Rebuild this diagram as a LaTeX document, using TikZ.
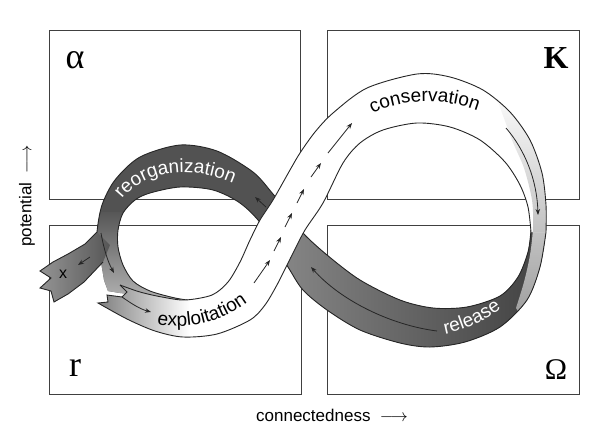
\documentclass[tikz,border=0pt]{standalone}
\usepackage{fontspec}
\setmainfont{Liberation Sans}
\newfontfamily\greekfont{Liberation Serif}
\usetikzlibrary{arrows.meta,decorations.text}

\def\bandfont{\fontsize{19}{19}\selectfont}
% back ribbon: release and reorganization
\def\greyouter{plot[smooth] coordinates {(531,230) (528,252) (518,277) (500,296) (467,307) (433,308) (400,300) (360,280) (327,255) (303,233) (288,212) (273,194) (253,172) (217,151) (180,145) (140,157) (115,180) (102,205) (97,232) (98,250) (101,262)}}
\def\greytear{-- (104,280) -- (108,291) -- (120,293) -- (150,296) -- (195,301)}
\def\greyinner{plot[smooth] coordinates {(195,301) (175,298) (150,291) (133,281) (123,265) (118,247) (118,230) (123,213) (135,200) (150,193) (180,187) (213,190) (240,203) (262,225) (288,267) (303,290) (327,310) (360,330) (400,343) (430,347) (465,342) (500,327) (527,300) (540,267) (546,232)}}
\edef\greyband{\greyouter \greytear -- \greyinner -- cycle}
% front ribbon: exploitation and conservation
\def\whiteupper{plot[smooth] coordinates {(120,285) (140,292) (162,297) (185,300) (212,295) (228,282) (240,262) (250,240) (260,220) (273,200) (290,170) (300,153) (315,132) (333,113) (367,88) (417,74) (450,77) (483,90) (510,112) (530,140) (542,173) (546,205) (546,232)}}
\def\whitelower{plot[smooth] coordinates {(531,232) (528,207) (520,185) (505,162) (480,140) (450,127) (417,123) (383,130) (360,143) (343,163) (323,203) (305,230) (292,255) (278,283) (265,305) (250,320) (217,334) (183,337) (155,331) (127,319) (98,303)}}
\def\whitetear{-- (108,302) -- (107,295) -- (122,297) -- (127,292) -- (120,285)}
\edef\whiteband{\whiteupper -- \whitelower \whitetear -- cycle}
% turning edge on the right
\def\lightstrip{plot[smooth] coordinates {(496,96) (512,140) (524,168) (532,200) (533,227) (530,255) (524,282) (516,308)} -- (522,318) -- (560,300) -- (565,200) -- (540,110) -- (510,85) -- cycle}

\tikzset{
  boxline/.style={line width=0.8pt, black!75},
  bandline/.style={line width=0.9pt, black!85},
  flowarrow/.style={line width=0.8pt, black!85, -{Stealth[length=6pt,width=4.5pt]}}
}

\begin{document}
\begin{tikzpicture}[x=1pt,y=-1pt]
  \useasboundingbox (0,0) rectangle (612,437);
  %%%%% BOXES %%%%%
  \draw[boxline] (49.5,30) rectangle (300,199);
  \draw[boxline] (327,30) rectangle (579,199);
  \draw[boxline] (49.5,225) rectangle (301,394);
  \draw[boxline] (327,225) rectangle (579,394);

  \node (alpha) at (75,60) {\greekfont\fontsize{36}{36}\selectfont α};
  \node (kay) at (556,58) {\greekfont\bfseries\fontsize{32}{32}\selectfont K};
  \node (arr) at (75,368) {\greekfont\fontsize{36}{36}\selectfont r};
  \node (omega) at (556,370) {\greekfont\fontsize{30}{30}\selectfont Ω};

  \node[rotate=90] (potential) at (27,196) {\fontsize{17}{17}\selectfont potential\ \ $\longrightarrow$};
  \node (connected) at (332,415) {\fontsize{17}{17}\selectfont connectedness\ \ $\longrightarrow$};

  %%%%% BACK RIBBON %%%%%
  \begin{scope}
    \clip \greyband;
    \fill[black!68] (80,120) rectangle (560,360);
    \shade[left color=black!48, right color=black!75] (285,226) rectangle (550,360);
    \shade[top color=black!66, bottom color=black!28] (85,212) rectangle (205,305);
    \shade[top color=white, bottom color=black!38] \lightstrip;
  \end{scope}
  \draw[bandline] \greyouter;
  \draw[bandline] \greyinner;

  % escape tail
  \shade[left color=black!42, right color=black!66] (97,232) -- (85,244) -- (68,254) -- (53,262) -- (40,271) -- (51,278) -- (40,288) -- (51,291) -- (54,302) -- (68,294) -- (84,282) -- (103,262) -- (110,245) -- cycle;
  \draw[bandline] (97,232) -- (85,244) -- (68,254) -- (53,262) -- (40,271) -- (51,278) -- (40,288) -- (51,291) -- (54,302) -- (68,294) -- (84,282) -- (103,262);

  %%%%% FRONT RIBBON %%%%%
  \fill[white] \whiteband;
  \begin{scope}
    \clip \whiteband;
    \shade[left color=black!52, right color=white] (95,280) rectangle (190,340);
    \shade[top color=white, bottom color=black!38] \lightstrip;
  \end{scope}
  \draw[bandline] \whiteupper;
  \draw[bandline] \whitelower \whitetear;

  %%%%% ARROWS %%%%%
  \draw[flowarrow] (254,283) -- (270,260);
  \draw[flowarrow] (274,251) -- (281,237);
  \draw[flowarrow] (285,227) -- (292,213);
  \draw[flowarrow] (297,203) -- (304,189);
  \draw[flowarrow] (311,177) -- (321,163);
  \draw[flowarrow] (328,153) -- (352,123);
  \draw[flowarrow] (506,128) .. controls (525,150) and (537,180) .. (538,215);
  \draw[flowarrow] (437,331) .. controls (390,325) and (340,300) .. (311,267);
  \draw[flowarrow] (266,207) -- (255,197);
  \draw[flowarrow] (101,233) .. controls (104,250) and (108,262) .. (114,273);
  \draw[flowarrow] (122,297) .. controls (132,304) and (140,309) .. (151,312);
  \draw[flowarrow] (90,257) -- (78,265);
  \node (xmark) at (63,274) {\fontsize{16}{16}\selectfont x};

  %%%%% PHASE LABELS %%%%%
  \path[decorate, decoration={text along path, text={|\bandfont\color{white}|reorganization}}] (122,199) .. controls (148,166) and (205,164) .. (250,192);
  \path[decorate, decoration={text along path, text={|\bandfont|conservation}}] (373,114) .. controls (400,98) and (450,96) .. (490,116);
  \path[decorate, decoration={text along path, text={|\bandfont|exploitation}}] (157,324) .. controls (190,331) and (228,322) .. (262,290);
  \path[decorate, decoration={text along path, text={|\bandfont\color{white}|release}}] (445,334) .. controls (465,330) and (488,320) .. (510,302);
\end{tikzpicture}
\end{document}
